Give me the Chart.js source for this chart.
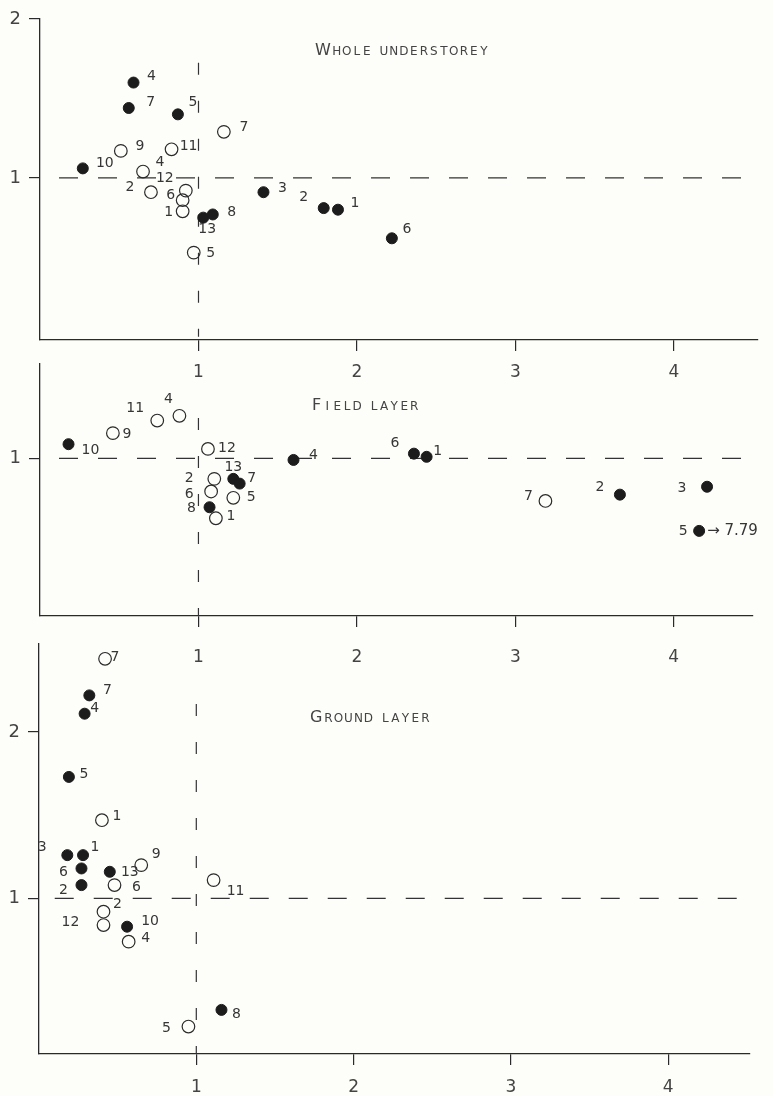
<!DOCTYPE html>
<html><head><meta charset="utf-8">
<script src="https://cdn.jsdelivr.net/npm/chart.js@4/dist/chart.umd.min.js"></script>
<style>
html,body{margin:0;padding:0;background:#fdfdf9;}
#wrap{position:relative;width:773px;height:1096px;overflow:hidden;background:#fdfdf9;}
canvas{position:absolute;left:0;}
</style></head><body><div id="wrap">
<canvas id="c1" width="773" height="395" style="top:0px"></canvas>
<canvas id="c2" width="773" height="327" style="top:345px"></canvas>
<canvas id="c3" width="773" height="471" style="top:625px"></canvas>
</div>
<script>
// ---------- DATA ----------
const xTickValues = [1, 2, 3, 4];
const wholeYTicks = [1, 2];
const fieldYTicks = [1];
const groundYTicks = [1, 2];

// Whole understorey
const wholeFilledNames = ['4','7','5','10','13','8','3','2','1','6'];
const wholeFilledX = [0.59,0.56,0.87,0.27,1.03,1.09,1.41,1.79,1.88,2.22];
const wholeFilledY = [1.60,1.44,1.40,1.06,0.75,0.77,0.91,0.81,0.80,0.62];
const wholeOpenNames = ['7','9','11','4','2','12','6','1','5'];
const wholeOpenX = [1.16,0.51,0.83,0.65,0.70,0.92,0.90,0.90,0.97];
const wholeOpenY = [1.29,1.17,1.18,1.04,0.91,0.92,0.86,0.79,0.53];

// Field layer
const fieldFilledNames = ['10','4','13','7','8','6','1','2','3','5'];
const fieldFilledX = [0.18,1.60,1.22,1.26,1.07,2.36,2.44,3.66,4.21,4.16];
const fieldFilledY = [1.09,0.99,0.87,0.84,0.69,1.03,1.01,0.77,0.82,0.54];
const fieldFilledOffScale = [null,null,null,null,null,null,null,null,null,7.79];
const fieldOpenNames = ['9','11','4','12','2','6','5','1','7'];
const fieldOpenX = [0.46,0.74,0.88,1.06,1.10,1.08,1.22,1.11,3.19];
const fieldOpenY = [1.16,1.24,1.27,1.06,0.87,0.79,0.75,0.62,0.73];

// Ground layer
const groundFilledNames = ['7','4','5','3','1','6','2','13','10','8'];
const groundFilledX = [0.32,0.29,0.19,0.18,0.28,0.27,0.27,0.45,0.56,1.16];
const groundFilledY = [2.22,2.11,1.73,1.26,1.26,1.18,1.08,1.16,0.83,0.33];
const groundOpenNames = ['7','1','9','6','11','2','12','4','5'];
const groundOpenX = [0.42,0.40,0.65,0.48,1.11,0.41,0.41,0.57,0.95];
const groundOpenY = [2.44,1.47,1.20,1.08,1.11,0.92,0.84,0.74,0.23];

// reference lines (ratio = 1)
const wholeRefH = [0.12, 4.53];  const wholeRefV = [0, 1.86];
const fieldRefH = [0.12, 4.50];  const fieldRefV = [0, 1.36];
const groundRefH = [0.10, 4.52]; const groundRefV = [0.065, 2.28];

// ---------- label placement (pixels, relative to the mark) ----------
const wholeFilledLabelOff = [[18,-6],[22,-6],[15,-12],[22,-5],[4,12],[19,-2],[19,-4],[-20,-11],[17,-6],[15,-9]];
const wholeOpenLabelOff = [[20,-4],[19,-5],[17,-3],[17,-9],[-21,-5],[-21,-12],[-12,-5],[-14,1],[17,1]];
const fieldFilledLabelOff = [[22,6],[20,-5],[0,-12],[12,-5],[-18,1],[-19,-10],[11,-5],[-20,-7],[-25,2],[-16,0]];
const fieldOpenLabelOff = [[14,1],[-22,-12],[-11,-16],[19,-1],[-25,-1],[-22,3],[18,0],[15,-2],[-17,-5]];
const groundFilledLabelOff = [[18,-5],[10,-5],[15,-3],[-25,-8],[12,-8],[-18,4],[-18,5],[20,1],[23,-5],[15,4]];
const groundOpenLabelOff = [[10,-1],[15,-4],[15,-11],[22,2],[22,11],[14,-7],[-33,-3],[17,-3],[-22,2]];

// ---------- helpers ----------
const INK = '#2a2a2a';
const TXT = '#363636';
const FONT = '"DejaVu Sans", sans-serif';

function pts(xs, ys) { return xs.map((x, i) => ({x: x, y: ys[i]})); }

const pointLabelPlugin = {
  id: 'pointLabels',
  afterDatasetsDraw(chart) {
    const ctx = chart.ctx;
    chart.data.datasets.forEach((ds, i) => {
      if (!ds.pointNames) return;
      const meta = chart.getDatasetMeta(i);
      ctx.save();
      ctx.font = '14px ' + FONT;
      ctx.fillStyle = TXT;
      ctx.textAlign = 'center';
      ctx.textBaseline = 'middle';
      meta.data.forEach((el, j) => {
        const off = ds.labelOff[j];
        ctx.fillText(ds.pointNames[j], el.x + off[0], el.y + off[1]);
        if (ds.offScale && ds.offScale[j] != null) {
          ctx.textAlign = 'left';
          ctx.font = '15px ' + FONT;
          ctx.fillText('\u2192 ' + ds.offScale[j].toFixed(2), el.x + 8, el.y);
          ctx.textAlign = 'center';
          ctx.font = '14px ' + FONT;
        }
      });
      ctx.restore();
    });
  }
};

const titlePlugin = {
  id: 'panelTitle',
  afterDraw(chart, args, opts) {
    if (!opts || !opts.text) return;
    const ctx = chart.ctx;
    const a = chart.chartArea;
    let x = a.left + opts.dx;
    const y = a.top + opts.dy;
    ctx.save();
    ctx.fillStyle = '#444';
    ctx.textBaseline = 'alphabetic';
    const t = opts.text;
    for (let i = 0; i < t.length; i++) {
      const ch = t[i];
      if (i === 0) {
        ctx.font = '16px ' + FONT; ctx.textAlign = 'left';
        ctx.fillText(ch, x, y);
        x += ctx.measureText(ch).width + 1;
        continue;
      }
      if (ch === ' ') { x += 7; continue; }
      ctx.font = '12px ' + FONT; ctx.textAlign = 'center';
      ctx.fillText(ch, x + 5, y);
      x += 10;
    }
    ctx.restore();
  }
};

function makeChart(id, cfg) {
  const datasets = [
    { type: 'line', data: [{x: cfg.refH[0], y: 1}, {x: cfg.refH[1], y: 1}], borderColor: '#333', borderWidth: 1.2,
      borderDash: [19, 20], pointRadius: 0, order: 10, clip: false },
    { type: 'line', data: [{x: 1, y: cfg.refV[0]}, {x: 1, y: cfg.refV[1]}], borderColor: '#333', borderWidth: 1.2,
      borderDash: [12, 26], borderDashOffset: 4, pointRadius: 0, order: 10, clip: false },
    { type: 'scatter', data: pts(cfg.fx, cfg.fy), pointNames: cfg.fnames, labelOff: cfg.foff, offScale: cfg.offScale,
      pointRadius: 5.5, pointBackgroundColor: '#1c1c1c', pointBorderColor: '#1c1c1c', pointBorderWidth: 1, order: 1, clip: false },
    { type: 'scatter', data: pts(cfg.ox, cfg.oy), pointNames: cfg.onames, labelOff: cfg.ooff,
      pointRadius: 6.3, pointBackgroundColor: 'rgba(0,0,0,0)', pointBorderColor: '#2a2a2a', pointBorderWidth: 1.2, order: 2, clip: false }
  ];
  return new Chart(document.getElementById(id), {
    data: { datasets },
    options: {
      responsive: false, animation: false, events: [],
      layout: { padding: { top: cfg.padTop, right: cfg.padRight, left: 0, bottom: 0 } },
      plugins: { legend: { display: false }, tooltip: { enabled: false },
        panelTitle: { text: cfg.title, dx: cfg.titleDx, dy: cfg.titleDy } },
      scales: {
        x: { type: 'linear', min: 0, max: cfg.xMax,
          afterBuildTicks: s => { s.ticks = xTickValues.map(v => ({value: v})); },
          afterFit: s => { s.height = cfg.xAxisH; },
          grid: { drawOnChartArea: false, drawTicks: true, tickLength: 11, color: INK, lineWidth: 1.2 },
          border: { display: true, color: INK, width: 1.3 },
          ticks: { padding: cfg.xPad, color: '#444', font: { family: FONT, size: 17 }, callback: v => String(v) } },
        y: { type: 'linear', min: cfg.yMin, max: cfg.yMax,
          afterBuildTicks: s => { s.ticks = cfg.yTicks.map(v => ({value: v})); },
          afterFit: s => { s.width = cfg.yAxisW; },
          grid: { drawOnChartArea: false, drawTicks: true, tickLength: 11, color: INK, lineWidth: 1.2 },
          border: { display: true, color: INK, width: 1.3 },
          ticks: { padding: 8, color: '#444', font: { family: FONT, size: 18 }, callback: v => String(v) } }
      }
    },
    plugins: [pointLabelPlugin, titlePlugin]
  });
}

makeChart('c1', {
  fx: wholeFilledX, fy: wholeFilledY, fnames: wholeFilledNames, foff: wholeFilledLabelOff,
  ox: wholeOpenX, oy: wholeOpenY, onames: wholeOpenNames, ooff: wholeOpenLabelOff,
  refH: wholeRefH, refV: wholeRefV, yTicks: wholeYTicks,
  xMax: 4.53, yMin: -0.02, yMax: 2.0, padTop: 19, padRight: 15, xAxisH: 55, yAxisW: 40, xPad: 11,
  title: 'WHOLE UNDERSTOREY', titleDx: 275, titleDy: 36
});
makeChart('c2', {
  fx: fieldFilledX, fy: fieldFilledY, fnames: fieldFilledNames, foff: fieldFilledLabelOff, offScale: fieldFilledOffScale,
  ox: fieldOpenX, oy: fieldOpenY, onames: fieldOpenNames, ooff: fieldOpenLabelOff,
  refH: fieldRefH, refV: fieldRefV, yTicks: fieldYTicks,
  xMax: 4.50, yMin: 0, yMax: 1.60, padTop: 17, padRight: 20, xAxisH: 56, yAxisW: 40, xPad: 20,
  title: 'FIELD LAYER', titleDx: 272, titleDy: 46
});
makeChart('c3', {
  fx: groundFilledX, fy: groundFilledY, fnames: groundFilledNames, foff: groundFilledLabelOff,
  ox: groundOpenX, oy: groundOpenY, onames: groundOpenNames, ooff: groundOpenLabelOff,
  refH: groundRefH, refV: groundRefV, yTicks: groundYTicks,
  xMax: 4.52, yMin: 0.065, yMax: 2.53, padTop: 12, padRight: 23, xAxisH: 42, yAxisW: 39, xPad: 12,
  title: 'GROUND LAYER', titleDx: 271, titleDy: 78
});
</script>
</body></html>
